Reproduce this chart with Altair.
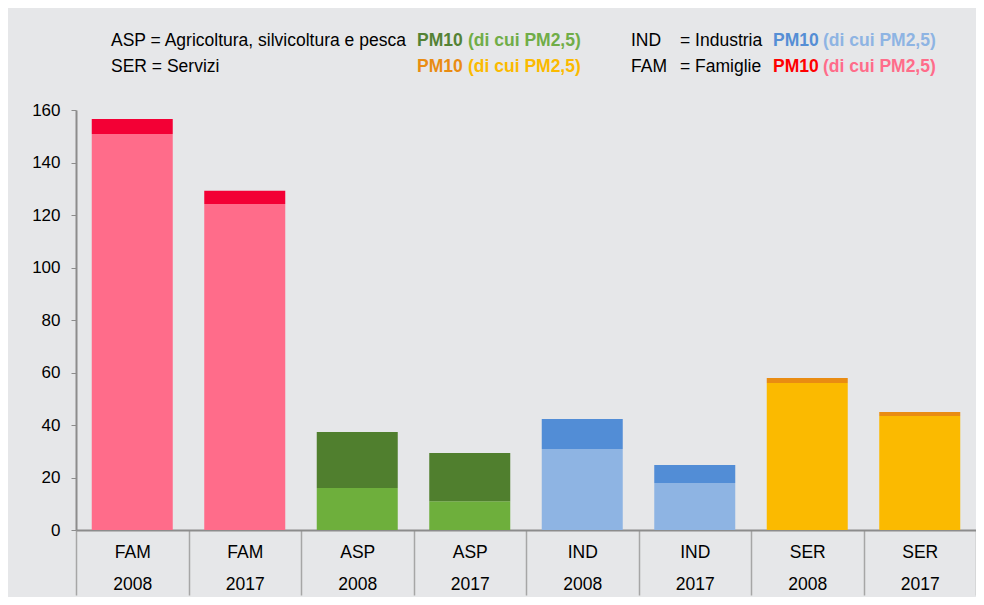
import altair as alt
import pandas as pd

# Data
sectors = ["FAM", "FAM", "ASP", "ASP", "IND", "IND", "SER", "SER"]
years = ["2008", "2017", "2008", "2017", "2008", "2017", "2008", "2017"]
pm10 = [156.6, 129.2, 37.3, 29.3, 42.3, 24.8, 57.9, 45.0]
pm25 = [150.9, 124.2, 16.0, 11.0, 30.9, 17.9, 56.0, 43.4]

dark_colors = {"FAM": "#f30035", "ASP": "#507f2e", "IND": "#528dd6", "SER": "#e98c12"}
light_colors = {"FAM": "#ff6c8a", "ASP": "#6eaf3c", "IND": "#8eb4e3", "SER": "#fbba00"}

rows = []
for s, yr, p10, p25 in zip(sectors, years, pm10, pm25):
    key = f"{s}|{yr}"
    rows.append({"cat": key, "part": f"{s} PM2,5", "y0": 0, "y1": p25})
    rows.append({"cat": key, "part": f"{s} PM10", "y0": p25, "y1": p10})
df = pd.DataFrame(rows)
order = [f"{s}|{y}" for s, y in zip(sectors, years)]

color_domain = [f"{s} PM2,5" for s in dark_colors] + [f"{s} PM10" for s in dark_colors]
color_range = [light_colors[s] for s in dark_colors] + [dark_colors[s] for s in dark_colors]

FONT = "Liberation Sans"

bars = alt.Chart(df).mark_bar(size=81).encode(
    x=alt.X("cat:N", sort=order, title=None,
            scale=alt.Scale(paddingInner=0, paddingOuter=0),
            axis=alt.Axis(labelExpr="split(datum.label, '|')", labelAngle=0,
                          labelFontSize=17.5, labelLineHeight=32, labelColor="#000000",
                          labelFont=FONT, labelBaseline="top",
                          tickBand="extent", tickSize=65, tickColor="#a6a6a6", tickWidth=1.5,
                          labelPadding=-52, domainColor="#8c8c8c", domainWidth=2)),
    y=alt.Y("y0:Q", title=None,
            scale=alt.Scale(domain=[0, 160], nice=False),
            axis=alt.Axis(values=list(range(0, 161, 20)), grid=False, tickSize=5,
                          tickColor="#8c8c8c", domainColor="#8c8c8c", domainWidth=2,
                          labelFontSize=17, labelFont=FONT, labelColor="#000000",
                          labelPadding=11)),
    y2="y1:Q",
    color=alt.Color("part:N", scale=alt.Scale(domain=color_domain, range=color_range), legend=None),
)

# Legend texts (rich coloured header)
legend_items = [
    # text, x, y, color, bold
    ("ASP = Agricoltura, silvicoltura e pesca", 35, -69, "#000000", "normal"),
    ("PM10", 341, -69, "#548235", "bold"),
    ("(di cui PM2,5)", 392, -69, "#70ad47", "bold"),
    ("SER = Servizi", 35, -43, "#000000", "normal"),
    ("PM10", 341, -43, "#e98c12", "bold"),
    ("(di cui PM2,5)", 392, -43, "#fbba00", "bold"),
    ("IND", 555, -69, "#000000", "normal"),
    ("= Industria", 604, -69, "#000000", "normal"),
    ("PM10", 697, -69, "#558ed5", "bold"),
    ("(di cui PM2,5)", 747, -69, "#8eb4e3", "bold"),
    ("FAM", 555, -43, "#000000", "normal"),
    ("= Famiglie", 604, -43, "#000000", "normal"),
    ("PM10", 697, -43, "#ff0000", "bold"),
    ("(di cui PM2,5)", 747, -43, "#ff6c8a", "bold"),
]

layers = [bars]
for txt, x, y, col, weight in legend_items:
    layers.append(
        alt.Chart(pd.DataFrame({"t": [txt]})).mark_text(
            align="left", baseline="middle", fontSize=17.5, font=FONT,
            fontWeight=weight, color=col
        ).encode(text="t:N", x=alt.value(x), y=alt.value(y))
    )

chart = alt.layer(*layers).properties(
    width=900, height=420,
    background="#e6e7e9",
    padding={"left": 68, "top": 102, "right": 0, "bottom": 67},
    autosize=alt.AutoSizeParams(type="none"),
).configure_view(stroke=None)

chart.save("out.html", embed_options={"renderer": "svg", "actions": False})
